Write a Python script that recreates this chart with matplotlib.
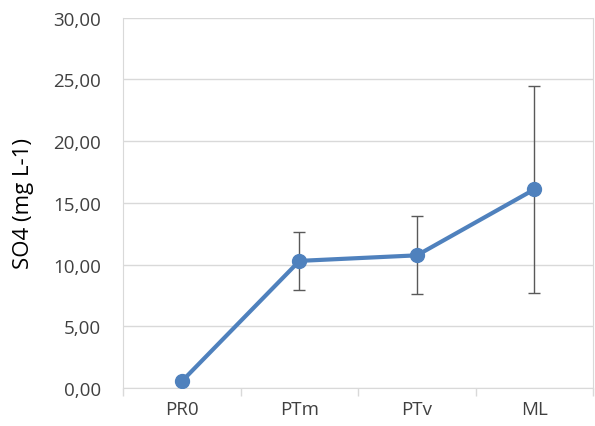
import matplotlib
matplotlib.use("Agg")
import matplotlib.pyplot as plt
from matplotlib.ticker import FuncFormatter, MultipleLocator, FixedLocator

plt.rcParams["font.family"] = ["Open Sans", "DejaVu Sans"]

sites = ["PR0", "PTm", "PTv", "ML"]
so4_mean = [0.55, 10.3, 10.75, 16.1]
so4_sd = [0.0, 2.35, 3.15, 8.4]

grid_col = "#d9d9d9"
text_col = "#404040"
blue = "#4f81bd"

fig = plt.figure(figsize=(5.95, 4.27), dpi=100)
ax = fig.add_axes([0.207, 0.089, 0.79, 0.867])

x = list(range(len(sites)))
ax.errorbar(x, so4_mean, yerr=so4_sd, fmt="none", ecolor="#595959",
            elinewidth=1, capsize=4.5, capthick=1, zorder=2)
ax.plot(x, so4_mean, color=blue, linewidth=3, marker="o", markersize=10,
        solid_capstyle="round", zorder=3)

ax.set_xlim(-0.5, len(sites) - 0.5)
ax.set_ylim(0, 30)
ax.yaxis.set_major_locator(MultipleLocator(5))
ax.yaxis.set_major_formatter(FuncFormatter(lambda v, p: f"{v:.2f}".replace(".", ",")))
ax.set_xticks(x)
ax.set_xticklabels(sites)
ax.xaxis.set_minor_locator(FixedLocator([i - 0.5 for i in range(len(sites) + 1)]))

ax.grid(axis="y", color=grid_col, linewidth=1)
ax.set_axisbelow(True)
for side in ["left", "right", "bottom"]:
    ax.spines[side].set_color(grid_col)
ax.spines["top"].set_visible(False)

ax.tick_params(axis="y", length=0, pad=16, labelsize=13.5, labelcolor=text_col)
ax.tick_params(axis="x", which="major", length=0, pad=9, labelsize=13.5, labelcolor=text_col)
ax.tick_params(axis="x", which="minor", length=6, color=grid_col, width=1)

ax.set_ylabel("SO4 (mg L-1)", fontsize=16, color="#000000")
ax.yaxis.set_label_coords(-0.19, 0.5)

fig.savefig("out.png", dpi=100)
